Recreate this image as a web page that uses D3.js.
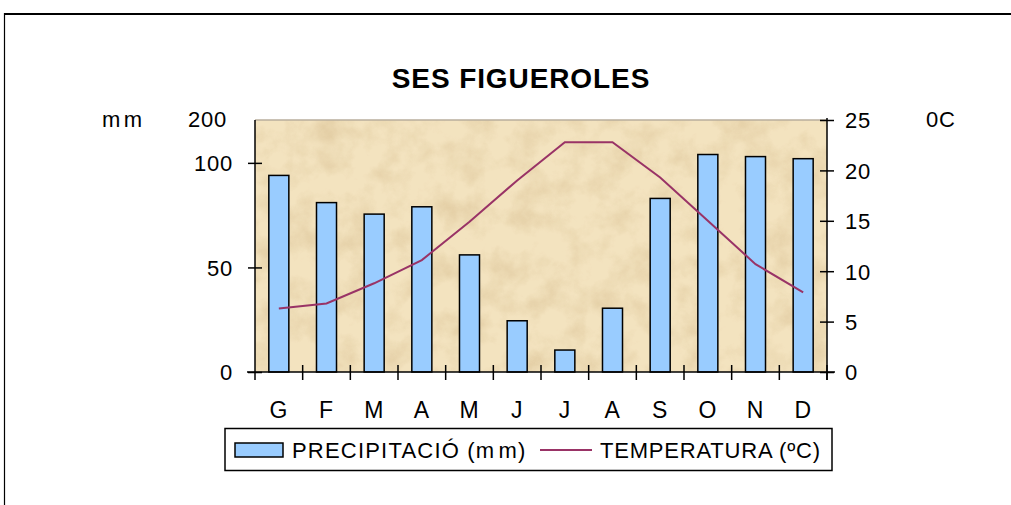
<!DOCTYPE html>
<html><head><meta charset="utf-8">
<script src="https://cdn.jsdelivr.net/npm/d3@7"></script>
<style>body{margin:0;background:#fff}svg{display:block;font-family:"Liberation Sans",Arial,sans-serif}</style>
</head><body><svg id="c" width="1011" height="505"></svg>
<script>
const months = ["G","F","M","A","M","J","J","A","S","O","N","D"];
const precipitation = [94, 81, 75.5, 79, 56, 24.5, 10.5, 30.5, 83, 104, 103, 102];
const temperature = [6.3, 6.8, 8.8, 11.1, 14.9, 19.0, 22.8, 22.8, 19.3, 15.0, 10.7, 7.9];
const leftTicks = [0, 50, 100];
const rightTicks = [0, 5, 10, 15, 20, 25];

const svg = d3.select("#c");
const x0 = 255, x1 = 827, yTop = 120, yBot = 372;
const FS = 22;

const defs = svg.append("defs");
const f = defs.append("filter").attr("id","paper").attr("x",0).attr("y",0).attr("width","100%").attr("height","100%");
f.append("feTurbulence").attr("type","fractalNoise").attr("baseFrequency","0.035").attr("numOctaves",5).attr("seed",11);
f.append("feColorMatrix").attr("type","matrix")
 .attr("values","0 0 0 0 0.74  0 0 0 0 0.58  0 0 0 0 0.34  1.7 0 0 0 -0.68");
f.append("feComposite").attr("in2","SourceGraphic").attr("operator","in");

// outer frame
svg.append("line").attr("x1",4).attr("x2",1011).attr("y1",14).attr("y2",14).attr("stroke","#000").attr("stroke-width",2);
svg.append("line").attr("x1",4.5).attr("x2",4.5).attr("y1",13).attr("y2",505).attr("stroke","#000").attr("stroke-width",1.2);

const x = d3.scaleBand().domain(d3.range(12)).range([x0,x1]).paddingInner(0.58).paddingOuter(0.29);
const xb = d3.scaleBand().domain(d3.range(12)).range([x0,x1]);
const yL = d3.scaleLinear().domain([0,120.5]).range([yBot,yTop]);
const yR = d3.scaleLinear().domain([0,25]).range([yBot,yTop]);

// plot background
svg.append("rect").attr("x",x0).attr("y",yTop).attr("width",x1-x0).attr("height",yBot-yTop).attr("fill","#F3E3BF");
svg.append("rect").attr("x",x0).attr("y",yTop).attr("width",x1-x0).attr("height",yBot-yTop).attr("fill","#fff").attr("filter","url(#paper)").attr("opacity",0.85);
svg.append("line").attr("x1",x0).attr("x2",x1).attr("y1",yTop).attr("y2",yTop).attr("stroke","#B8AE9C").attr("stroke-width",1.5);

// bars
svg.append("g").selectAll("rect").data(precipitation).join("rect")
 .attr("x",(d,i)=>x(i)).attr("width",x.bandwidth())
 .attr("y",d=>yL(d)).attr("height",d=>yBot-yL(d))
 .attr("fill","#99CCFF").attr("stroke","#000").attr("stroke-width",1.5);

// temperature line
const line = d3.line().x((d,i)=>xb(i)+xb.bandwidth()/2).y(d=>yR(d));
svg.append("path").datum(temperature).attr("d",line).attr("fill","none").attr("stroke","#993366").attr("stroke-width",2);

// axes
const tickLen = 7;
const gL = svg.append("g").attr("transform",`translate(${x0},0)`)
 .call(d3.axisLeft(yL).tickValues(leftTicks).tickSize(tickLen).tickSizeOuter(0));
const gR = svg.append("g").attr("transform",`translate(${x1},0)`)
 .call(d3.axisRight(yR).tickValues(rightTicks).tickSize(tickLen).tickSizeOuter(0));
const gB = svg.append("g").attr("transform",`translate(0,${yBot})`)
 .call(d3.axisBottom(xb).tickValues(d3.range(12)).tickSize(0).tickSizeOuter(0).tickFormat(i=>months[i]));
[gL,gR,gB].forEach(g=>{
  g.select(".domain").remove();
  g.selectAll("text").attr("font-size",FS).attr("letter-spacing",0.8).attr("font-family","Liberation Sans, Arial, sans-serif").attr("fill","#000");
});
gL.selectAll(".tick line").attr("x1",tickLen).attr("x2",-tickLen).attr("stroke","#000").attr("stroke-width",1.5);
gL.selectAll(".tick text").attr("x",-22).attr("dy","0.36em");
gR.selectAll(".tick line").attr("x1",-tickLen).attr("x2",tickLen).attr("stroke","#000").attr("stroke-width",1.5);
gR.selectAll(".tick text").attr("x",18).attr("dy","0.36em");
gB.selectAll(".tick text").attr("dy",0).attr("y",46).attr("font-size",23);
// axis lines
svg.append("line").attr("x1",x0).attr("x2",x0).attr("y1",yTop).attr("y2",yBot+8).attr("stroke","#000").attr("stroke-width",1.5);
svg.append("line").attr("x1",x1).attr("x2",x1).attr("y1",yTop-2).attr("y2",yBot+8).attr("stroke","#000").attr("stroke-width",1.5);
svg.append("line").attr("x1",x0-8).attr("x2",x1+8).attr("y1",yBot).attr("y2",yBot).attr("stroke","#000").attr("stroke-width",1.5);
svg.append("g").selectAll("line").data(d3.range(1,12)).join("line")
 .attr("x1",i=>xb(i)).attr("x2",i=>xb(i)).attr("y1",yBot-7).attr("y2",yBot+8).attr("stroke","#000").attr("stroke-width",1.5);
svg.append("line").attr("x1",x1).attr("x2",x1).attr("y1",yBot-7).attr("y2",yBot+8).attr("stroke","#000").attr("stroke-width",1.5);

// texts
svg.append("text").attr("x",521).attr("y",88).attr("text-anchor","middle").attr("font-size",28).attr("letter-spacing",0.9).attr("font-weight","bold").text("SES FIGUEROLES");
svg.append("text").attr("x",102).attr("y",127).attr("font-size",FS).attr("letter-spacing",3.5).text("mm");
svg.append("text").attr("x",188).attr("y",127).attr("font-size",FS).attr("letter-spacing",0.8).text("200");
svg.append("text").attr("x",926).attr("y",127).attr("font-size",FS).attr("letter-spacing",0.8).text("0C");

// legend
const lg = svg.append("g");
lg.append("rect").attr("x",225).attr("y",428.5).attr("width",607).attr("height",42).attr("fill","#fff").attr("stroke","#000").attr("stroke-width",1.5);
lg.append("rect").attr("x",235).attr("y",443).attr("width",48).attr("height",14).attr("fill","#99CCFF").attr("stroke","#000").attr("stroke-width",1.5);
lg.append("text").attr("x",292).attr("y",458).attr("font-size",FS).attr("letter-spacing",1.2).html("PRECIPITACIÓ (m<tspan dx='3'>m</tspan>)");
lg.append("line").attr("x1",540).attr("x2",592).attr("y1",450).attr("y2",450).attr("stroke","#993366").attr("stroke-width",2);
lg.append("text").attr("x",600).attr("y",458).attr("font-size",FS).attr("letter-spacing",0.8).text("TEMPERATURA (ºC)");
</script></body></html>
